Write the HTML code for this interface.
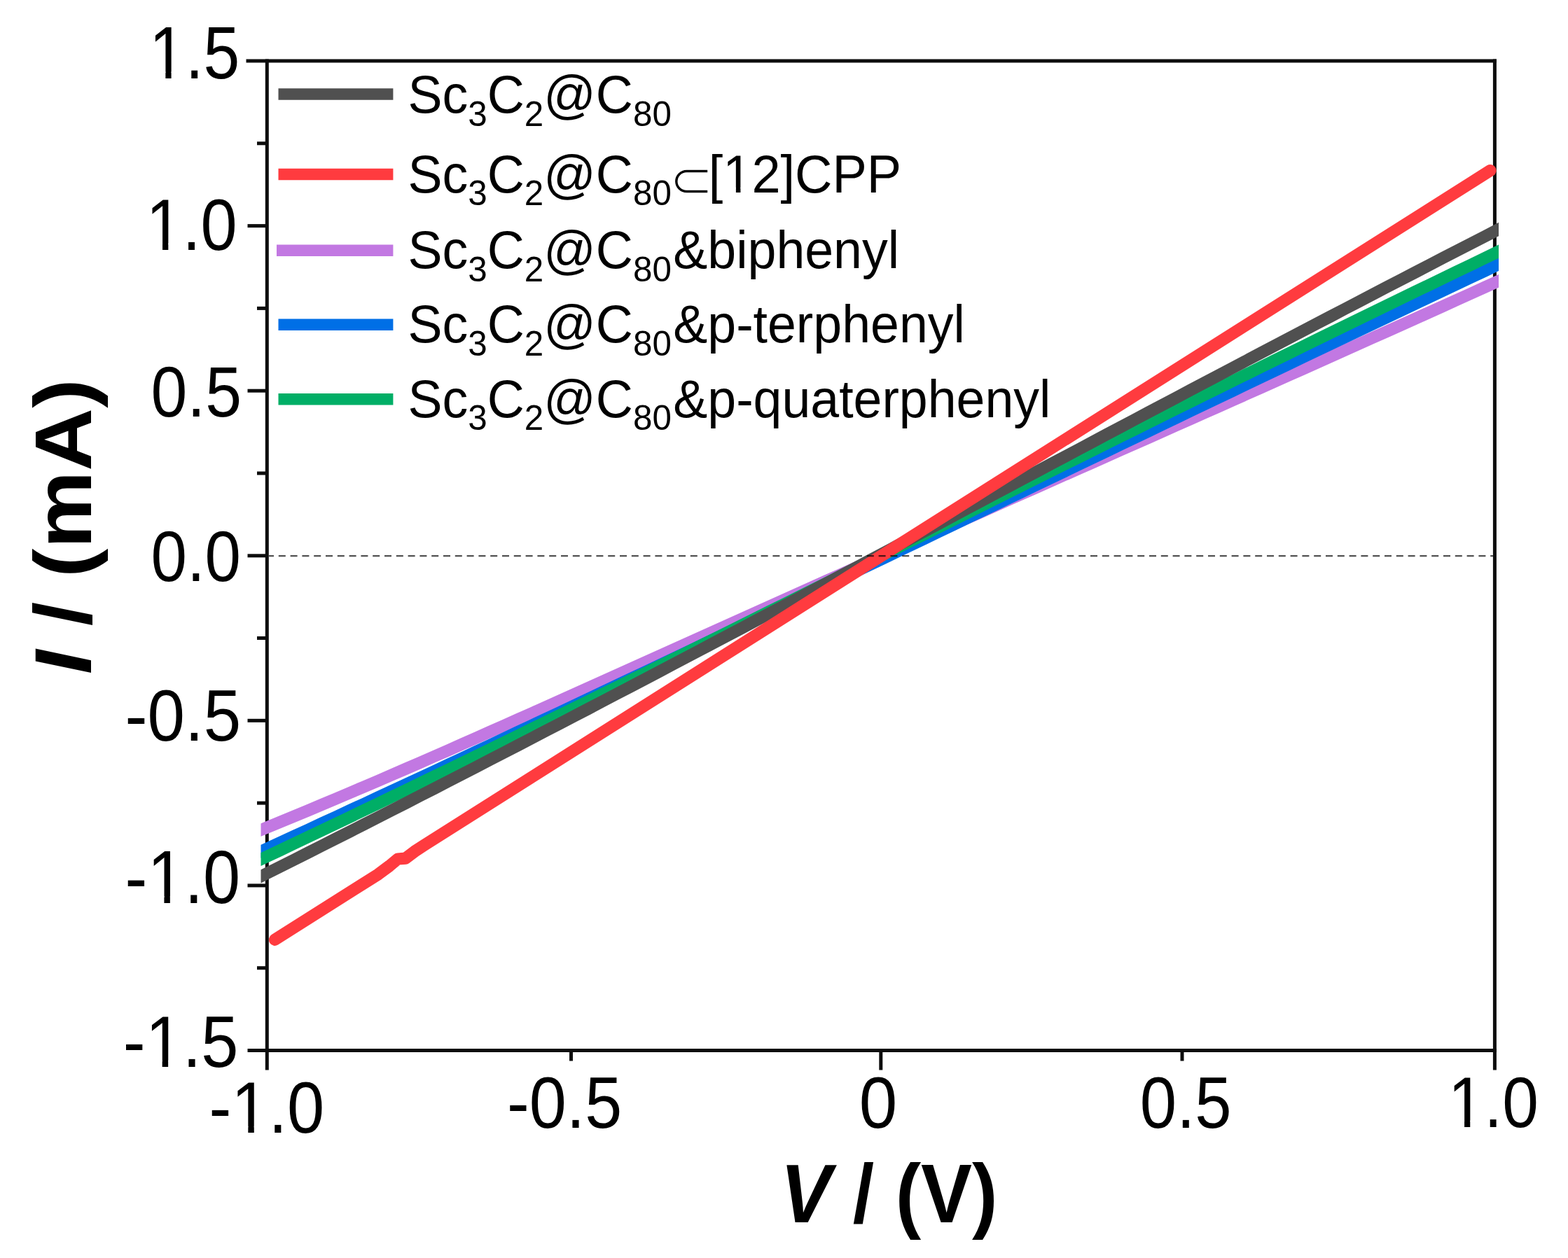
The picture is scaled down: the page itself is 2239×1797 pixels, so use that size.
<!DOCTYPE html>
<html>
<head>
<meta charset="utf-8">
<title>I-V curves</title>
<style>
html,body{margin:0;padding:0;background:#fff;}
body{width:2239px;height:1797px;overflow:hidden;}
svg{display:block;}
text{font-family:"Liberation Sans","DejaVu Sans",Arial,sans-serif;fill:#000;}
</style>
</head>
<body>
<svg width="2239" height="1797" viewBox="0 0 2239 1797">
<rect x="0" y="0" width="2239" height="1797" fill="#fff"/>
<g stroke="#0d0d0d" stroke-width="5" fill="none" stroke-linecap="butt">
<line x1="351.5" y1="87.0" x2="2137" y2="87.0"/>
<line x1="353.5" y1="1500.5" x2="2137" y2="1500.5"/>
<line x1="381.3" y1="84.5" x2="381.3" y2="1528.5"/>
<line x1="2134.4" y1="84.5" x2="2134.4" y2="1528.5"/>
<line x1="353.5" y1="322.6" x2="381" y2="322.6"/>
<line x1="353.5" y1="558.2" x2="381" y2="558.2"/>
<line x1="353.5" y1="793.8" x2="381" y2="793.8"/>
<line x1="353.5" y1="1029.3" x2="381" y2="1029.3"/>
<line x1="353.5" y1="1264.9" x2="381" y2="1264.9"/>
<line x1="367" y1="204.8" x2="381" y2="204.8"/>
<line x1="367" y1="440.4" x2="381" y2="440.4"/>
<line x1="367" y1="676.0" x2="381" y2="676.0"/>
<line x1="367" y1="911.5" x2="381" y2="911.5"/>
<line x1="367" y1="1147.1" x2="381" y2="1147.1"/>
<line x1="367" y1="1382.7" x2="381" y2="1382.7"/>
<line x1="815.5" y1="1500" x2="815.5" y2="1515.5"/>
<line x1="1257.8" y1="1500" x2="1257.8" y2="1528.5"/>
<line x1="1688" y1="1500" x2="1688" y2="1515.5"/>
</g>
<defs><clipPath id="pc"><rect x="372.5" y="0" width="1767.5" height="1797"/></clipPath></defs>
<g fill="none" stroke-width="17.2" stroke-linejoin="round">
<polyline stroke="#c278e2" stroke-linecap="butt" clip-path="url(#pc)" points="360.0,1190.7 380.0,1182.5 400.0,1174.3 420.0,1166.0 440.0,1157.7 460.0,1149.3 480.0,1140.8 500.0,1132.4 520.0,1123.8 540.0,1115.3 560.0,1106.6 580.0,1098.0 600.0,1089.3 620.0,1080.5 640.0,1071.8 660.0,1062.9 680.0,1054.1 700.0,1045.2 720.0,1036.4 740.0,1027.4 760.0,1018.5 780.0,1009.6 800.0,1000.6 820.0,991.6 840.0,982.6 860.0,973.6 880.0,964.6 900.0,955.6 920.0,946.5 940.0,937.5 960.0,928.5 980.0,919.5 1000.0,910.5 1020.0,901.5 1040.0,892.5 1060.0,883.5 1080.0,874.5 1100.0,865.5 1120.0,856.6 1140.0,847.6 1160.0,838.7 1180.0,829.7 1200.0,820.8 1220.0,811.9 1240.0,803.0 1260.0,794.1 1280.0,785.2 1300.0,776.2 1320.0,767.4 1340.0,758.5 1360.0,749.6 1380.0,740.7 1400.0,731.8 1420.0,722.9 1440.0,714.0 1460.0,705.2 1480.0,696.3 1500.0,687.4 1520.0,678.5 1540.0,669.7 1560.0,660.8 1580.0,651.9 1600.0,643.0 1620.0,634.1 1640.0,625.3 1660.0,616.4 1680.0,607.5 1700.0,598.6 1720.0,589.7 1740.0,580.8 1760.0,571.9 1780.0,563.0 1800.0,554.1 1820.0,545.2 1840.0,536.2 1860.0,527.3 1880.0,518.4 1900.0,509.4 1920.0,500.5 1940.0,491.5 1960.0,482.5 1980.0,473.6 2000.0,464.6 2020.0,455.6 2040.0,446.6 2060.0,437.6 2080.0,428.5 2100.0,419.5 2120.0,410.4 2140.0,401.4 2150.0,396.8"/>
<polyline stroke="#006fe6" stroke-linecap="butt" clip-path="url(#pc)" points="360.0,1221.9 380.0,1212.7 400.0,1203.6 420.0,1194.4 440.0,1185.2 460.0,1175.9 480.0,1166.7 500.0,1157.4 520.0,1148.2 540.0,1138.9 560.0,1129.6 580.0,1120.3 600.0,1111.0 620.0,1101.7 640.0,1092.3 660.0,1083.0 680.0,1073.6 700.0,1064.2 720.0,1054.8 740.0,1045.4 760.0,1036.0 780.0,1026.6 800.0,1017.2 820.0,1007.7 840.0,998.3 860.0,988.8 880.0,979.3 900.0,969.9 920.0,960.4 940.0,950.9 960.0,941.4 980.0,931.9 1000.0,922.4 1020.0,912.8 1040.0,903.3 1060.0,893.8 1080.0,884.2 1100.0,874.7 1120.0,865.1 1140.0,855.6 1160.0,846.0 1180.0,836.5 1200.0,826.9 1220.0,817.3 1240.0,807.7 1260.0,798.2 1280.0,788.6 1300.0,779.0 1320.0,769.4 1340.0,759.8 1360.0,750.2 1380.0,740.6 1400.0,731.0 1420.0,721.4 1440.0,711.8 1460.0,702.2 1480.0,692.6 1500.0,683.0 1520.0,673.4 1540.0,663.8 1560.0,654.3 1580.0,644.7 1600.0,635.1 1620.0,625.5 1640.0,615.9 1660.0,606.3 1680.0,596.7 1700.0,587.1 1720.0,577.5 1740.0,568.0 1760.0,558.4 1780.0,548.8 1800.0,539.3 1820.0,529.7 1840.0,520.2 1860.0,510.6 1880.0,501.1 1900.0,491.5 1920.0,482.0 1940.0,472.5 1960.0,463.0 1980.0,453.4 2000.0,443.9 2020.0,434.5 2040.0,425.0 2060.0,415.5 2080.0,406.0 2100.0,396.5 2120.0,387.1 2140.0,377.6 2150.0,372.9"/>
<polyline stroke="#00ae66" stroke-linecap="butt" clip-path="url(#pc)" points="360.0,1233.5 380.0,1224.0 400.0,1214.6 420.0,1205.1 440.0,1195.6 460.0,1186.0 480.0,1176.5 500.0,1166.9 520.0,1157.3 540.0,1147.7 560.0,1138.1 580.0,1128.4 600.0,1118.7 620.0,1109.1 640.0,1099.4 660.0,1089.6 680.0,1079.9 700.0,1070.2 720.0,1060.4 740.0,1050.6 760.0,1040.8 780.0,1031.0 800.0,1021.2 820.0,1011.4 840.0,1001.6 860.0,991.7 880.0,981.9 900.0,972.0 920.0,962.1 940.0,952.2 960.0,942.3 980.0,932.4 1000.0,922.5 1020.0,912.6 1040.0,902.7 1060.0,892.7 1080.0,882.8 1100.0,872.8 1120.0,862.9 1140.0,852.9 1160.0,843.0 1180.0,833.0 1200.0,823.0 1220.0,813.0 1240.0,803.1 1260.0,793.1 1280.0,783.1 1300.0,773.1 1320.0,763.2 1340.0,753.2 1360.0,743.2 1380.0,733.2 1400.0,723.2 1420.0,713.3 1440.0,703.3 1460.0,693.3 1480.0,683.4 1500.0,673.4 1520.0,663.4 1540.0,653.5 1560.0,643.5 1580.0,633.6 1600.0,623.6 1620.0,613.7 1640.0,603.8 1660.0,593.8 1680.0,583.9 1700.0,574.0 1720.0,564.1 1740.0,554.3 1760.0,544.4 1780.0,534.5 1800.0,524.6 1820.0,514.8 1840.0,505.0 1860.0,495.1 1880.0,485.3 1900.0,475.5 1920.0,465.8 1940.0,456.0 1960.0,446.2 1980.0,436.5 2000.0,426.8 2020.0,417.1 2040.0,407.4 2060.0,397.7 2080.0,388.0 2100.0,378.4 2120.0,368.7 2140.0,359.1 2150.0,354.3"/>
<polyline stroke="#505050" stroke-linecap="butt" clip-path="url(#pc)" points="360.0,1258.1 380.0,1248.1 400.0,1238.1 420.0,1228.1 440.0,1218.0 460.0,1207.9 480.0,1197.8 500.0,1187.7 520.0,1177.5 540.0,1167.4 560.0,1157.2 580.0,1147.0 600.0,1136.7 620.0,1126.5 640.0,1116.2 660.0,1105.9 680.0,1095.6 700.0,1085.2 720.0,1074.9 740.0,1064.5 760.0,1054.1 780.0,1043.7 800.0,1033.3 820.0,1022.9 840.0,1012.5 860.0,1002.0 880.0,991.5 900.0,981.1 920.0,970.6 940.0,960.1 960.0,949.5 980.0,939.0 1000.0,928.5 1020.0,917.9 1040.0,907.4 1060.0,896.8 1080.0,886.2 1100.0,875.6 1120.0,865.1 1140.0,854.5 1160.0,843.9 1180.0,833.3 1200.0,822.6 1220.0,812.0 1240.0,801.4 1260.0,790.8 1280.0,780.2 1300.0,769.5 1320.0,758.9 1340.0,748.3 1360.0,737.6 1380.0,727.0 1400.0,716.4 1420.0,705.7 1440.0,695.1 1460.0,684.5 1480.0,673.8 1500.0,663.2 1520.0,652.6 1540.0,642.0 1560.0,631.3 1580.0,620.7 1600.0,610.1 1620.0,599.5 1640.0,588.9 1660.0,578.3 1680.0,567.8 1700.0,557.2 1720.0,546.6 1740.0,536.1 1760.0,525.5 1780.0,515.0 1800.0,504.4 1820.0,493.9 1840.0,483.4 1860.0,472.9 1880.0,462.4 1900.0,452.0 1920.0,441.5 1940.0,431.1 1960.0,420.6 1980.0,410.2 2000.0,399.8 2020.0,389.5 2040.0,379.1 2060.0,368.7 2080.0,358.4 2100.0,348.1 2120.0,337.8 2140.0,327.5 2150.0,322.4"/>
<polyline stroke="#ff3b3f" stroke-linecap="round" points="392.5,1342.3 540.0,1248.9 556.0,1237.0 568.0,1227.0 579.0,1226.2 592.0,1216.3 606.0,1207.1 2128.0,243.6"/>
</g>
<line x1="384" y1="794.2" x2="2132" y2="794.2" stroke="#000" stroke-opacity="0.68" stroke-width="2.2" stroke-dasharray="10 6.8" stroke-dashoffset="3"/>
<g transform="matrix(0.9307,0.0000,0.0000,1.0500,212.9466,111.9284)"><text style="font-size:100px">1.5</text><g fill="#fff"><rect x="5.86" y="-8.94" width="19.29" height="11.94"/><rect x="33.98" y="-8.94" width="18.26" height="11.94"/></g></g>
<g transform="matrix(0.9368,0.0000,0.0000,1.0324,208.4685,356.7735)"><text style="font-size:100px">1.0</text><g fill="#fff"><rect x="5.86" y="-8.94" width="19.29" height="11.94"/><rect x="33.98" y="-8.94" width="18.26" height="11.94"/></g></g>
<text style="font-size:100px" transform="matrix(0.9321,0.0000,0.0000,1.0198,215.4482,594.7768)">0.5</text>
<text style="font-size:100px" transform="matrix(0.9245,0.0000,0.0000,1.0198,215.4764,829.5762)">0.0</text>
<text style="font-size:100px" transform="matrix(0.9610,0.0000,0.0000,1.0298,178.5674,1058.3604)">-0.5</text>
<g transform="matrix(0.9549,0.0000,0.0000,1.0680,178.5969,1289.5581)"><text style="font-size:100px">-1.0</text><g fill="#fff"><rect x="39.16" y="-8.94" width="19.29" height="11.94"/><rect x="67.29" y="-8.94" width="18.26" height="11.94"/></g></g>
<g transform="matrix(0.9559,0.0000,0.0000,1.0358,175.7971,1523.9499)"><text style="font-size:100px">-1.5</text><g fill="#fff"><rect x="39.16" y="-8.94" width="19.29" height="11.94"/><rect x="67.29" y="-8.94" width="18.26" height="11.94"/></g></g>
<g transform="matrix(0.9567,0.0000,0.0000,1.0311,298.4013,1617.9617)"><text style="font-size:100px">-1.0</text><g fill="#fff"><rect x="39.16" y="-8.94" width="19.29" height="11.94"/><rect x="67.29" y="-8.94" width="18.26" height="11.94"/></g></g>
<text style="font-size:100px" transform="matrix(0.9534,0.0000,0.0000,1.0424,724.0230,1610.5662)">-0.5</text>
<text style="font-size:100px" transform="matrix(0.9796,0.0000,0.0000,1.0424,1226.8641,1610.5662)">0</text>
<text style="font-size:100px" transform="matrix(0.9412,0.0000,0.0000,1.0424,1627.8407,1610.5662)">0.5</text>
<g transform="matrix(0.9289,0.0000,0.0000,1.0183,2067.7102,1609.7777)"><text style="font-size:100px">1.0</text><g fill="#fff"><rect x="5.86" y="-8.94" width="19.29" height="11.94"/><rect x="33.98" y="-8.94" width="18.26" height="11.94"/></g></g>
<text style="font-size:116px;font-weight:bold" transform="matrix(0.9438,0.0000,0.0000,1.0211,1114.3492,1746.4917)"><tspan font-style="italic">V</tspan> / (V)</text>
<text style="font-size:116px;font-weight:bold" transform="matrix(0.0000,-1.0735,0.9964,0.0000,129.6791,963.3327)"><tspan font-style="italic">I</tspan> / (mA)</text>
<g stroke-width="16.5" stroke-linecap="butt">
<line x1="397.5" y1="134.4" x2="561.4" y2="134.4" stroke="#505050"/>
<line x1="397.5" y1="249" x2="561.4" y2="249" stroke="#ff3b3f"/>
<line x1="395" y1="357.8" x2="561.4" y2="357.8" stroke="#c278e2"/>
<line x1="397.5" y1="463.8" x2="561.4" y2="463.8" stroke="#006fe6"/>
<line x1="397.5" y1="570.3" x2="561.4" y2="570.3" stroke="#00ae66"/>
</g>
<text style="font-size:76px" transform="matrix(0.9676,0.0000,0.0000,0.9879,582.4300,161.0000)">Sc<tspan font-size="51" dy="19">3</tspan><tspan dy="-19">C</tspan><tspan font-size="51" dy="19">2</tspan><tspan dy="-19">@C</tspan><tspan font-size="51" dy="19">80</tspan></text>
<text style="font-size:76px" transform="matrix(0.9676,0.0000,0.0000,0.9879,582.4300,274.6000)">Sc<tspan font-size="51" dy="19">3</tspan><tspan dy="-19">C</tspan><tspan font-size="51" dy="19">2</tspan><tspan dy="-19">@C</tspan><tspan font-size="51" dy="19">80</tspan></text>
<text style="font-size:76px" transform="matrix(0.9676,0.0000,0.0000,0.9879,582.4300,383.0000)">Sc<tspan font-size="51" dy="19">3</tspan><tspan dy="-19">C</tspan><tspan font-size="51" dy="19">2</tspan><tspan dy="-19">@C</tspan><tspan font-size="51" dy="19">80</tspan></text>
<text style="font-size:76px" transform="matrix(0.9676,0.0000,0.0000,0.9879,582.4300,489.0000)">Sc<tspan font-size="51" dy="19">3</tspan><tspan dy="-19">C</tspan><tspan font-size="51" dy="19">2</tspan><tspan dy="-19">@C</tspan><tspan font-size="51" dy="19">80</tspan></text>
<text style="font-size:76px" transform="matrix(0.9676,0.0000,0.0000,0.9879,582.4300,595.5000)">Sc<tspan font-size="51" dy="19">3</tspan><tspan dy="-19">C</tspan><tspan font-size="51" dy="19">2</tspan><tspan dy="-19">@C</tspan><tspan font-size="51" dy="19">80</tspan></text>
<text style="font-size:76px;font-family:'DejaVu Sans',sans-serif" stroke="#fff" stroke-width="2" transform="matrix(0.9919,0.0000,0.0000,0.9689,955.4633,281.8131)">⊂</text>
<g transform="matrix(0.9730,0.0000,0.0000,0.9879,1011.7375,274.6000)"><text style="font-size:76px">[12]CPP</text><g fill="#fff"><rect x="25.57" y="-6.79" width="14.66" height="9.79"/><rect x="46.94" y="-6.79" width="13.88" height="9.79"/></g></g>
<text style="font-size:76px" transform="matrix(0.9672,0.0000,0.0000,0.9879,961.2886,383.0000)">&amp;biphenyl</text>
<text style="font-size:76px" transform="matrix(0.9667,0.0000,0.0000,0.9879,961.2882,489.0000)">&amp;p-terphenyl</text>
<text style="font-size:76px" transform="matrix(0.9665,0.0000,0.0000,0.9879,961.2903,595.5000)">&amp;p-quaterphenyl</text>
</svg>
</body>
</html>
